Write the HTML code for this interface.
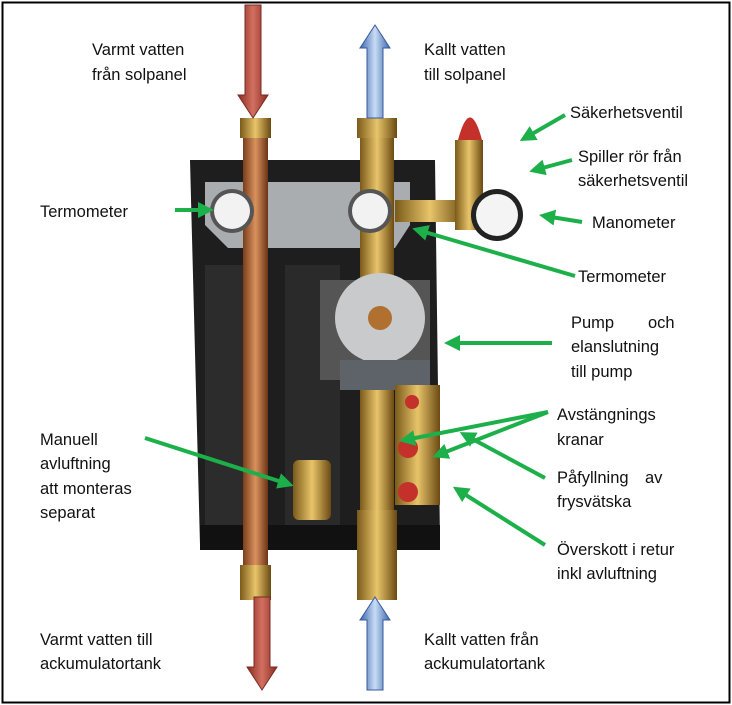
<!DOCTYPE html>
<html><head><meta charset="utf-8"><style>
body{margin:0;background:#fff}
svg{display:block}
text{font-family:"Liberation Sans",sans-serif;font-size:16.5px;fill:#111}
</style></head><body>
<svg width="732" height="705" viewBox="0 0 732 705">
<defs>
<marker id="g" markerWidth="4" markerHeight="4" refX="2.5" refY="2" orient="auto" markerUnits="strokeWidth"><path d="M0,0 L4,2 L0,4 z" fill="#1db04a"/></marker>
<linearGradient id="cu" x1="0" x2="1"><stop offset="0" stop-color="#7a3d1c"/><stop offset=".5" stop-color="#d9925e"/><stop offset="1" stop-color="#6b3317"/></linearGradient>
<linearGradient id="br" x1="0" x2="1"><stop offset="0" stop-color="#7a5a1a"/><stop offset=".5" stop-color="#e8c46a"/><stop offset="1" stop-color="#6a4a12"/></linearGradient>
<linearGradient id="rd" x1="0" x2="1"><stop offset="0" stop-color="#8a2a22"/><stop offset=".5" stop-color="#d27060"/><stop offset="1" stop-color="#8a2a22"/></linearGradient>
<linearGradient id="bl" x1="0" x2="1"><stop offset="0" stop-color="#3a66b0"/><stop offset=".5" stop-color="#c8dcf4"/><stop offset="1" stop-color="#3a66b0"/></linearGradient>
</defs>
<rect x="2.5" y="2.5" width="727" height="700" fill="#fff" stroke="#000" stroke-width="2"/>
<!-- body -->
<path d="M190,160 L435,160 L440,540 L200,545 Z" fill="#1e1e1e"/>
<rect x="205" y="265" width="40" height="260" fill="#2c2c2c"/>
<rect x="285" y="265" width="55" height="260" fill="#2a2a2a"/>
<rect x="200" y="525" width="240" height="25" fill="#111"/>
<!-- bracket -->
<path d="M205,182 L410,182 L410,225 L395,248 L228,248 L205,225 Z" fill="#a9adb0"/>
<!-- pipes -->
<rect x="243" y="118" width="25" height="482" fill="url(#cu)"/>
<rect x="360" y="118" width="34" height="480" fill="url(#br)"/>
<rect x="240" y="118" width="31" height="20" fill="url(#br)"/>
<rect x="357" y="118" width="40" height="20" fill="url(#br)"/>
<rect x="240" y="565" width="31" height="35" fill="url(#br)"/>
<rect x="357" y="510" width="40" height="90" fill="url(#br)"/>
<rect x="395" y="200" width="70" height="22" fill="url(#br)"/>
<rect x="455" y="140" width="28" height="90" fill="url(#br)"/>
<path d="M458,140 Q470,95 482,140 Z" fill="#c4312a"/>
<!-- thermometers / manometer -->
<circle cx="232" cy="211" r="22" fill="#555"/><circle cx="232" cy="211" r="18" fill="#f2f2f2"/>
<circle cx="370" cy="211" r="22" fill="#555"/><circle cx="370" cy="211" r="18" fill="#f2f2f2"/>
<circle cx="497" cy="215" r="26" fill="#222"/><circle cx="497" cy="215" r="21" fill="#f4f4f4"/>
<!-- pump -->
<rect x="320" y="280" width="110" height="100" fill="#555"/>
<circle cx="380" cy="318" r="45" fill="#c8cacc"/><circle cx="380" cy="318" r="12" fill="#b07030"/>
<rect x="340" y="360" width="90" height="30" fill="#5d6368"/>
<!-- valves -->
<rect x="395" y="385" width="45" height="120" fill="url(#br)"/>
<circle cx="408" cy="448" r="10" fill="#c4312a"/><circle cx="408" cy="492" r="10" fill="#c4312a"/>
<circle cx="412" cy="402" r="7" fill="#c4312a"/>
<rect x="293" y="460" width="38" height="60" rx="6" fill="url(#br)"/>
<!-- flow arrows -->
<path d="M245,5 L261,5 L261,95 L268,95 L253,118 L238,95 L245,95 Z" fill="url(#rd)" stroke="#7a2a22"/>
<path d="M254,597 L270,597 L270,667 L277,667 L262,690 L247,667 L254,667 Z" fill="url(#rd)" stroke="#7a2a22"/>
<path d="M367,118 L383,118 L383,48 L390,48 L375,25 L360,48 L367,48 Z" fill="url(#bl)" stroke="#3a5a9a"/>
<path d="M367,690 L383,690 L383,620 L390,620 L375,597 L360,620 L367,620 Z" fill="url(#bl)" stroke="#3a5a9a"/>
<!-- green arrows -->
<g stroke="#1db04a" stroke-width="4" marker-end="url(#g)" fill="none">
<line x1="565" y1="115" x2="525" y2="138"/>
<line x1="572" y1="160" x2="535" y2="170"/>
<line x1="582" y1="222" x2="545" y2="216"/>
<line x1="175" y1="210" x2="208" y2="210"/>
<line x1="575" y1="276" x2="418" y2="230"/>
<line x1="552" y1="343" x2="450" y2="343"/>
<line x1="145" y1="438" x2="288" y2="484"/>
<line x1="548" y1="412" x2="405" y2="440"/>
<line x1="548" y1="412" x2="438" y2="455"/>
<line x1="545" y1="478" x2="465" y2="435"/>
<line x1="545" y1="545" x2="458" y2="490"/>
</g>
<!-- labels -->
<text x="92" y="55">Varmt vatten</text><text x="92" y="80">från solpanel</text>
<text x="424" y="55">Kallt  vatten</text><text x="424" y="80">till solpanel</text>
<text x="570" y="118">Säkerhetsventil</text>
<text x="578" y="162">Spiller rör från</text><text x="578" y="186">säkerhetsventil</text>
<text x="592" y="228">Manometer</text>
<text x="40" y="217">Termometer</text>
<text x="578" y="282">Termometer</text>
<text x="571" y="328">Pump</text><text x="648" y="328">och</text>
<text x="571" y="352">elanslutning</text><text x="571" y="377">till pump</text>
<text x="40" y="445">Manuell</text><text x="40" y="469">avluftning</text><text x="40" y="494">att monteras</text><text x="40" y="518">separat</text>
<text x="557" y="420">Avstängnings</text><text x="557" y="445">kranar</text>
<text x="557" y="483">Påfyllning</text><text x="645" y="483">av</text><text x="557" y="507">frysvätska</text>
<text x="557" y="555">Överskott i retur</text><text x="557" y="579">inkl avluftning</text>
<text x="40" y="645">Varmt vatten till</text><text x="40" y="669">ackumulatortank</text>
<text x="424" y="645">Kallt vatten från</text><text x="424" y="669">ackumulatortank</text>
</svg>
</body></html>
